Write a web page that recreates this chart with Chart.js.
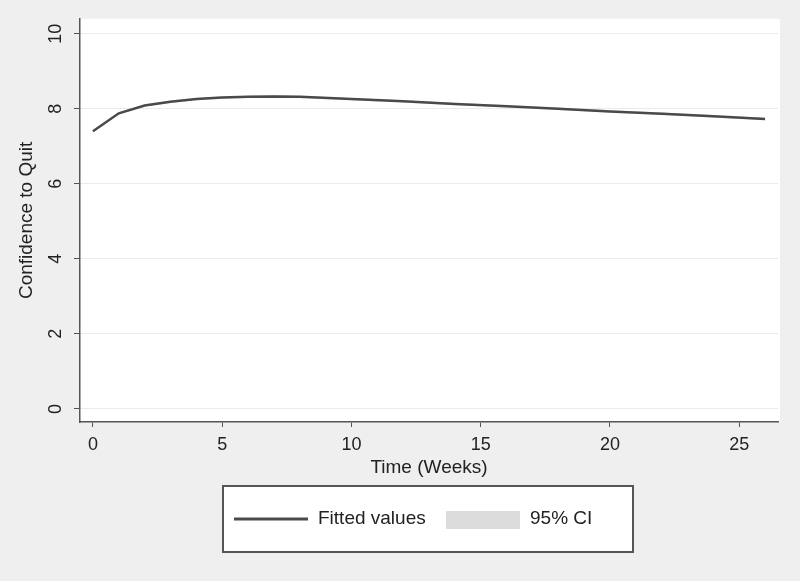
<!DOCTYPE html>
<html>
<head>
<meta charset="utf-8">
<script src="https://cdn.jsdelivr.net/npm/chart.js@4/dist/chart.umd.min.js"></script>
<style>
  html, body { margin: 0; padding: 0; background: #efefef; }
  #wrap { width: 800px; height: 581px; }
</style>
</head>
<body>
<div id="wrap"><canvas id="grafica" width="800" height="581"></canvas></div>
<script>
// semanas y valores ajustados
const semanas = [0, 1, 2, 3, 4, 5, 6, 7, 8, 10, 12, 14, 16, 18, 20, 22, 24, 26];
const ajustados = [7.40, 7.88, 8.09, 8.19, 8.26, 8.30, 8.32, 8.33, 8.32, 8.26, 8.20, 8.13, 8.07, 8.00, 7.93, 7.87, 7.80, 7.73];
const icInferior = [7.37, 7.85, 8.06, 8.16, 8.23, 8.27, 8.29, 8.30, 8.29, 8.23, 8.17, 8.10, 8.04, 7.97, 7.90, 7.84, 7.77, 7.70];
const icSuperior = [7.43, 7.91, 8.12, 8.22, 8.29, 8.33, 8.35, 8.36, 8.35, 8.29, 8.23, 8.16, 8.10, 8.03, 7.96, 7.90, 7.83, 7.76];
const ticksX = [0, 5, 10, 15, 20, 25];
const ticksY = [0, 2, 4, 6, 8, 10];

const fuente = "'Liberation Sans', Arial, sans-serif";
const colorTexto = "#222222";
const colorLinea = "#4a4a4a";

const puntos = arr => semanas.map((s, i) => ({ x: s, y: arr[i] }));

// fondo blanco del area de la grafica
const fondoArea = {
    id: "fondoArea",
    beforeDraw(chart) {
        const { ctx, chartArea: a } = chart;
        ctx.save();
        ctx.fillStyle = "#efefef";
        ctx.fillRect(0, 0, chart.width, chart.height);
        ctx.fillStyle = "#ffffff";
        ctx.fillRect(a.left, a.top, a.right - a.left + 2, a.bottom - a.top);
        ctx.restore();
    }
};

// leyenda estilo Stata con recuadro
const leyendaCaja = {
    id: "leyendaCaja",
    afterDraw(chart) {
        const ctx = chart.ctx;
        const ds = chart.data.datasets;
        ctx.save();
        ctx.fillStyle = "#ffffff";
        ctx.fillRect(223, 486, 410, 66);
        ctx.strokeStyle = "#555555";
        ctx.lineWidth = 2;
        ctx.strokeRect(223, 486, 410, 66);

        ctx.strokeStyle = colorLinea;
        ctx.lineWidth = 3;
        ctx.beginPath();
        ctx.moveTo(234, 519);
        ctx.lineTo(308, 519);
        ctx.stroke();

        ctx.fillStyle = "#dcdcdc";
        ctx.fillRect(446, 511, 74, 18);

        ctx.fillStyle = colorTexto;
        ctx.font = "19px " + fuente;
        ctx.textBaseline = "middle";
        ctx.fillText(ds[2].label, 318, 519);
        ctx.fillText(ds[1].label, 530, 519);
        ctx.restore();
    }
};

new Chart(document.getElementById("grafica"), {
    type: "line",
    data: {
        datasets: [
            {
                label: "IC inferior",
                data: puntos(icInferior),
                borderWidth: 0,
                pointRadius: 0,
                fill: false,
                order: 2
            },
            {
                label: "95% CI",
                data: puntos(icSuperior),
                borderWidth: 0,
                pointRadius: 0,
                backgroundColor: "#dcdcdc",
                fill: "-1",
                order: 1
            },
            {
                label: "Fitted values",
                data: puntos(ajustados),
                borderColor: colorLinea,
                borderWidth: 2.5,
                pointRadius: 0,
                tension: 0,
                fill: false,
                order: 0
            }
        ]
    },
    options: {
        responsive: false,
        animation: false,
        layout: { padding: { top: 18, right: 22, left: 0, bottom: 97 } },
        plugins: {
            legend: { display: false },
            tooltip: { enabled: false }
        },
        scales: {
            x: {
                type: "linear",
                min: -0.5,
                max: 26.5,
                afterBuildTicks: s => { s.ticks = ticksX.map(v => ({ value: v })); },
                afterFit: s => { s.height = 62; },
                border: { color: "#555555", width: 1.5 },
                grid: { drawOnChartArea: false, drawTicks: true, tickLength: 5, color: "#555555" },
                ticks: { color: colorTexto, font: { family: fuente, size: 18 }, padding: 7, maxRotation: 0 },
                title: { display: true, text: "Time (Weeks)", color: colorTexto, font: { family: fuente, size: 19 }, padding: { top: 0, bottom: 5 } }
            },
            y: {
                min: -0.35,
                max: 10.4,
                afterBuildTicks: s => { s.ticks = ticksY.map(v => ({ value: v })); },
                afterFit: s => { s.width = 80; },
                border: { color: "#555555", width: 1.5 },
                grid: {
                    color: "#ebebeb",
                    tickColor: "#555555",
                    tickLength: 6,
                    drawTicks: true
                },
                ticks: { color: colorTexto, font: { family: fuente, size: 18 }, padding: 8, minRotation: 90, maxRotation: 90, crossAlign: "center" },
                title: { display: true, text: "Confidence to Quit", color: colorTexto, font: { family: fuente, size: 19 }, padding: { top: 15, bottom: 0 } }
            }
        }
    },
    plugins: [fondoArea, leyendaCaja]
});
</script>
</body>
</html>
